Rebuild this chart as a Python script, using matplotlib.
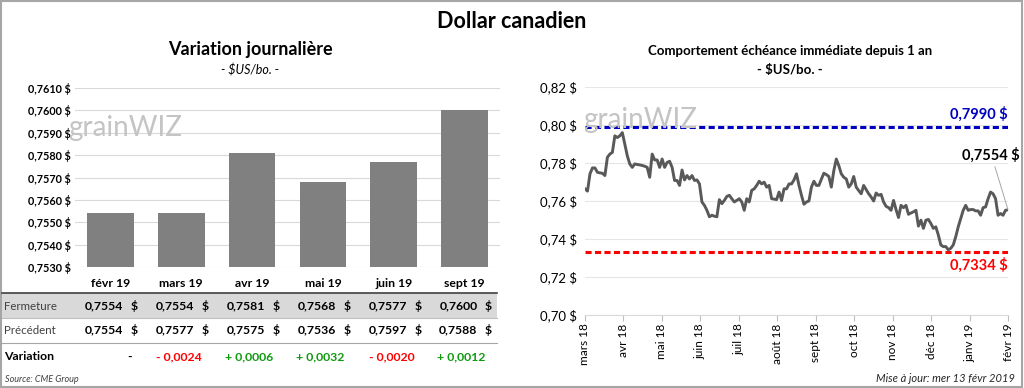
import numpy as np
import matplotlib
matplotlib.use("Agg")
import matplotlib.pyplot as plt
from matplotlib import transforms
from matplotlib.patches import Rectangle
from matplotlib.lines import Line2D

plt.rcParams['font.family'] = ['Lato', 'DejaVu Sans']

# --- données : variation journalière ---
mois = ["févr 19", "mars 19", "avr 19", "mai 19", "juin 19", "sept 19"]
fermeture = [0.7554, 0.7554, 0.7581, 0.7568, 0.7577, 0.7600]
precedent = [0.7554, 0.7577, 0.7575, 0.7536, 0.7597, 0.7588]
variation = [None, -0.0024, 0.0006, 0.0032, -0.0020, 0.0012]

# --- données : échéance immédiate depuis 1 an ---
mois_axe = ["mars 18", "avr 18", "mai 18", "juin 18", "juil 18", "août 18",
            "sept 18", "oct 18", "nov 18", "déc 18", "janv 19", "févr 19"]
cours = [
    0.7664, 0.7652, 0.7743, 0.7774, 0.7774, 0.7751, 0.7748, 0.7746, 0.7734, 0.7830,
    0.7847, 0.7856, 0.7943, 0.7934, 0.7943, 0.7960, 0.7899, 0.7838, 0.7795, 0.7777,
    0.7795, 0.7792, 0.7790, 0.7787, 0.7783, 0.7777, 0.7725, 0.7847, 0.7816, 0.7816,
    0.7777, 0.7821, 0.7777, 0.7803, 0.7809, 0.7777, 0.7708, 0.7708, 0.7682, 0.7763,
    0.7711, 0.7734, 0.7716, 0.7734, 0.7708, 0.7711, 0.7690, 0.7595, 0.7577, 0.7551,
    0.7517, 0.7525, 0.7520, 0.7517, 0.7607, 0.7586, 0.7603, 0.7624, 0.7630, 0.7612,
    0.7595, 0.7603, 0.7612, 0.7595, 0.7551, 0.7612, 0.7595, 0.7656, 0.7664, 0.7682,
    0.7704, 0.7690, 0.7699, 0.7673, 0.7682, 0.7612, 0.7610, 0.7607, 0.7647, 0.7603,
    0.7664, 0.7664, 0.7690, 0.7690, 0.7711, 0.7743, 0.7682, 0.7630, 0.7583, 0.7595,
    0.7600, 0.7673, 0.7704, 0.7682, 0.7682, 0.7715, 0.7746, 0.7739, 0.7729, 0.7673,
    0.7760, 0.7821, 0.7786, 0.7743, 0.7725, 0.7716, 0.7673, 0.7690, 0.7729, 0.7673,
    0.7655, 0.7638, 0.7682, 0.7660, 0.7638, 0.7621, 0.7600,
    0.7642, 0.7630, 0.7635, 0.7595, 0.7572, 0.7565, 0.7551, 0.7603, 0.7555, 0.7513,
    0.7577, 0.7565, 0.7577, 0.7530, 0.7537, 0.7543, 0.7551, 0.7468, 0.7499, 0.7456,
    0.7499, 0.7503, 0.7482, 0.7456, 0.7464, 0.7421, 0.7369, 0.7360, 0.7360, 0.7343,
    0.7351, 0.7369, 0.7412, 0.7464, 0.7508, 0.7551, 0.7577, 0.7551, 0.7555, 0.7555,
    0.7548, 0.7548, 0.7525, 0.7565, 0.7569, 0.7612, 0.7647, 0.7638, 0.7612, 0.7525,
    0.7534, 0.7525, 0.7551, 0.7554]
haut = 0.7990
bas = 0.7334


def fr(v, dec=4):
    return f"{v:.{dec}f}".replace('.', ',')


W, H = 1024, 388
fig = plt.figure(figsize=(W / 100, H / 100), dpi=100)


def fx(px):
    return px / W


def fy(py):
    return 1 - py / H


fig.add_artist(Rectangle((0.001, 0.002), 0.997, 0.995, transform=fig.transFigure,
                         fill=False, edgecolor='#a6a6a6', lw=1.5))

fig.text(fx(512), fy(22), "Dollar canadien", ha='center', va='center',
         fontsize=15.5, fontweight='bold')

# ---------------- graphique de gauche ----------------
fig.text(fx(250), fy(50), "Variation journalière", ha='center', va='center',
         fontsize=13, fontweight='bold')
fig.text(fx(250), fy(70), "- $US/bo. -", ha='center', va='center',
         fontsize=9, style='italic')

ax1 = fig.add_axes([fx(75), fy(267), fx(425), 179 / H])
x1 = np.arange(len(mois))
ax1.bar(x1, fermeture, width=0.66, color='#808080', zorder=2)
ax1.set_xlim(-0.5, len(mois) - 0.5)
ax1.set_ylim(0.7530, 0.7610)
yt = np.arange(0.7530, 0.76101, 0.001)
ax1.set_yticks(yt)
ax1.set_yticklabels([fr(v) + " $" for v in yt], fontsize=7.8, fontweight='bold')
ax1.set_xticks(x1)
ax1.set_xticklabels(mois, fontsize=8.8, fontweight='bold')
ax1.tick_params(length=0, pad=3)
ax1.tick_params(axis='x', pad=8)
ax1.yaxis.grid(True, color='#d9d9d9', lw=0.8)
ax1.set_axisbelow(True)
for s in ax1.spines.values():
    s.set_visible(False)

fig.text(fx(68), fy(128), "grainWIZ", fontsize=20, color='#c4c4c4',
         va='center', zorder=0)

# tableau sous le graphique
fig.add_artist(Rectangle((fx(2), fy(318)), fx(495), 25 / H, transform=fig.transFigure,
                         color='#d9d9d9', lw=0))
fig.add_artist(Line2D([fx(2), fx(497)], [fy(293), fy(293)], color='#404040', lw=1.2))
fig.add_artist(Line2D([fx(2), fx(497)], [fy(318), fy(318)], color='#bfbfbf', lw=0.8))
fig.add_artist(Line2D([fx(2), fx(497)], [fy(343), fy(343)], color='#a6a6a6', lw=0.8))

fig.text(fx(4), fy(306), "Fermeture", fontsize=8.3, color='#404040', va='center')
fig.text(fx(4), fy(330), "Précédent", fontsize=8.3, color='#404040', va='center')
fig.text(fx(4), fy(357), "Variation", fontsize=8.8, fontweight='bold', va='center')

base = transforms.blended_transform_factory(ax1.transData, fig.transFigure)


def decal(px):
    return base + transforms.ScaledTranslation(px / 100, 0, fig.dpi_scale_trans)


for i in range(len(mois)):
    for val, yy in ((fermeture[i], 306), (precedent[i], 330)):
        fig.text(i, fy(yy), fr(val), transform=decal(13), ha='right', va='center',
                 fontsize=8.8, fontweight='bold')
        fig.text(i, fy(yy), "$", transform=decal(24), ha='center', va='center',
                 fontsize=8.8, fontweight='bold')
    v = variation[i]
    if v is None:
        txt, col = "-", 'black'
    elif v < 0:
        txt, col = "- " + fr(-v), '#ff0000'
    else:
        txt, col = "+ " + fr(v), '#109a10'
    fig.text(i, fy(357), txt, transform=decal(21), ha='right', va='center',
             fontsize=8.8, fontweight='bold', color=col)

fig.text(fx(5), fy(380), "Source: CME Group", fontsize=6.5, style='italic',
         color='#404040', va='center')

# ---------------- graphique de droite ----------------
fig.text(fx(790), fy(51), "Comportement échéance immédiate depuis 1 an",
         ha='center', va='center', fontsize=9.5, fontweight='bold')
fig.text(fx(790), fy(70), "- $US/bo. -", ha='center', va='center',
         fontsize=9.5, fontweight='bold')

ax2 = fig.add_axes([fx(585), fy(315), fx(423), 228 / H])
ax2.patch.set_alpha(0)
x2 = np.arange(len(cours))
ax2.plot(x2, cours, color='#595959', lw=2.1, zorder=3)
ax2.set_xlim(0, len(cours) - 1)
ax2.set_ylim(0.70, 0.82)
yt2 = np.arange(0.70, 0.8201, 0.02)
ax2.set_yticks(yt2)
ax2.set_yticklabels([fr(v, 2) + " $" for v in yt2], fontsize=9.5)
ax2.set_xticks(np.linspace(0, len(cours) - 1, len(mois_axe)))
ax2.set_xticklabels(mois_axe, rotation=90, fontsize=8.5)
ax2.tick_params(axis='y', length=0, pad=6)
ax2.tick_params(axis='x', length=4, color='#bfbfbf', direction='out', pad=2)
ax2.yaxis.grid(True, color='#e6e6e6', lw=0.8)
ax2.set_axisbelow(True)
for s in ('top', 'right', 'left'):
    ax2.spines[s].set_visible(False)
ax2.spines['bottom'].set_color('#d9d9d9')

ax2.axhline(haut, color='#0000c0', lw=2.2, ls=(0, (2.0, 1.1)), zorder=2)
ax2.axhline(bas, color='#ff0000', lw=2.2, ls=(0, (2.0, 1.1)), zorder=2)
trans2 = transforms.blended_transform_factory(ax2.transAxes, ax2.transData)
ax2.annotate(fr(haut) + " $", xy=(1, haut), xycoords=trans2, xytext=(0, 4),
             textcoords='offset points', ha='right', va='bottom',
             fontsize=10.5, fontweight='bold', color='#0000c0')
ax2.annotate(fr(bas) + " $", xy=(1, bas), xycoords=trans2, xytext=(0, -4),
             textcoords='offset points', ha='right', va='top',
             fontsize=10.5, fontweight='bold', color='#ff0000')
ax2.annotate(fr(cours[-1]) + " $", xy=(x2[-1], cours[-1]), xytext=(-12, 34),
             textcoords='offset points', ha='center', va='bottom',
             fontsize=10.5, fontweight='bold', annotation_clip=False,
             arrowprops=dict(arrowstyle='-', color='#a6a6a6', lw=0.7,
                             shrinkA=1, shrinkB=0))

fig.text(fx(583), fy(120), "grainWIZ", fontsize=20, color='#c4c4c4',
         va='center', zorder=0)

fig.text(fx(1015), fy(378), "Mise à jour: mer 13 févr 2019", ha='right', va='center',
         fontsize=8, style='italic', color='#262626')

fig.savefig('out.png', dpi=100)
